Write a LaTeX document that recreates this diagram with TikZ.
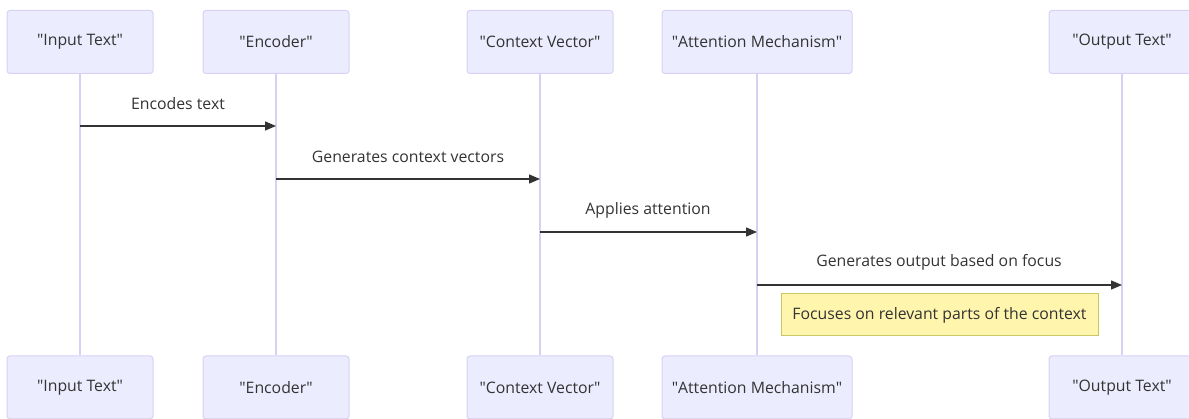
\documentclass[tikz,border=0pt]{standalone}
\usepackage{fontspec}
\setmainfont{Open Sans}
\usetikzlibrary{arrows.meta}
\definecolor{actfill}{HTML}{ECECFF}
\definecolor{actdraw}{HTML}{D9D0F5}
\definecolor{lifecol}{HTML}{D9D0F5}
\definecolor{txt}{HTML}{333333}
\definecolor{notefill}{HTML}{FFF5AD}
\definecolor{notedraw}{HTML}{C8C864}
\newcommand{\qq}[1]{\textquotedbl#1\textquotedbl}
\begin{document}
\begin{tikzpicture}[x=1pt,y=-1pt,
  actor/.style={draw=actdraw,fill=actfill,rounded corners=3pt,minimum width=146pt,minimum height=63pt,inner sep=0pt,font=\fontsize{15.8}{18}\selectfont,text=txt,line width=1pt},
  life/.style={draw=lifecol,line width=1.5pt},
  msg/.style={draw=txt,line width=1.4pt,-{Triangle[length=11pt,width=9pt]}},
  lbl/.style={font=\fontsize{15.8}{18}\selectfont,text=txt},
  notebox/.style={draw=notedraw,fill=notefill,minimum width=317pt,minimum height=42pt,inner sep=0pt,font=\fontsize{15.8}{18}\selectfont,text=txt,line width=1pt}]
\useasboundingbox (0,0) rectangle (1189,419);
\begin{scope}
\clip (0,0) rectangle (1189,419);
% lifelines
\foreach \n/\x in {a/80,b/276,c/540,d/757,e/1122}{
  \draw[life] (\x,73) -- (\x,355);
}
\node[actor] (ta) at (80,42) {\qq{Input Text}};
\node[actor] (tb) at (276,42) {\qq{Encoder}};
\node[actor] (tc) at (540,42) {\qq{Context Vector}};
\node[actor,minimum width=190pt] (td) at (757,42) {\qq{Attention Mechanism}};
\node[actor] (te) at (1122,42) {\qq{Output Text}};
\node[actor] (ba) at (80,387.5) {\qq{Input Text}};
\node[actor] (bb) at (276,387.5) {\qq{Encoder}};
\node[actor] (bc) at (540,387.5) {\qq{Context Vector}};
\node[actor,minimum width=190pt] (bd) at (757,387.5) {\qq{Attention Mechanism}};
\node[actor] (be) at (1122,387.5) {\qq{Output Text}};
\end{scope}
% messages
\coordinate (m1s) at (80,126); \coordinate (m1e) at (276,126);
\coordinate (m2s) at (276,179); \coordinate (m2e) at (540,179);
\coordinate (m3s) at (540,232); \coordinate (m3e) at (757,232);
\coordinate (m4s) at (757,285); \coordinate (m4e) at (1122,285);
\draw[msg] (m1s) -- (m1e);
\draw[msg] (m2s) -- (m2e);
\draw[msg] (m3s) -- (m3e);
\draw[msg] (m4s) -- (m4e);
\node[lbl] (l1) at (178,104) {Encodes text};
\node[lbl] (l2) at (408,157) {Generates context vectors};
\node[lbl] (l3) at (648,210) {Applies attention};
\node[lbl] (l4) at (939,262) {Generates output based on focus};
\node[notebox] (note) at (939.5,315) {Focuses on relevant parts of the context};
\end{tikzpicture}
\end{document}
